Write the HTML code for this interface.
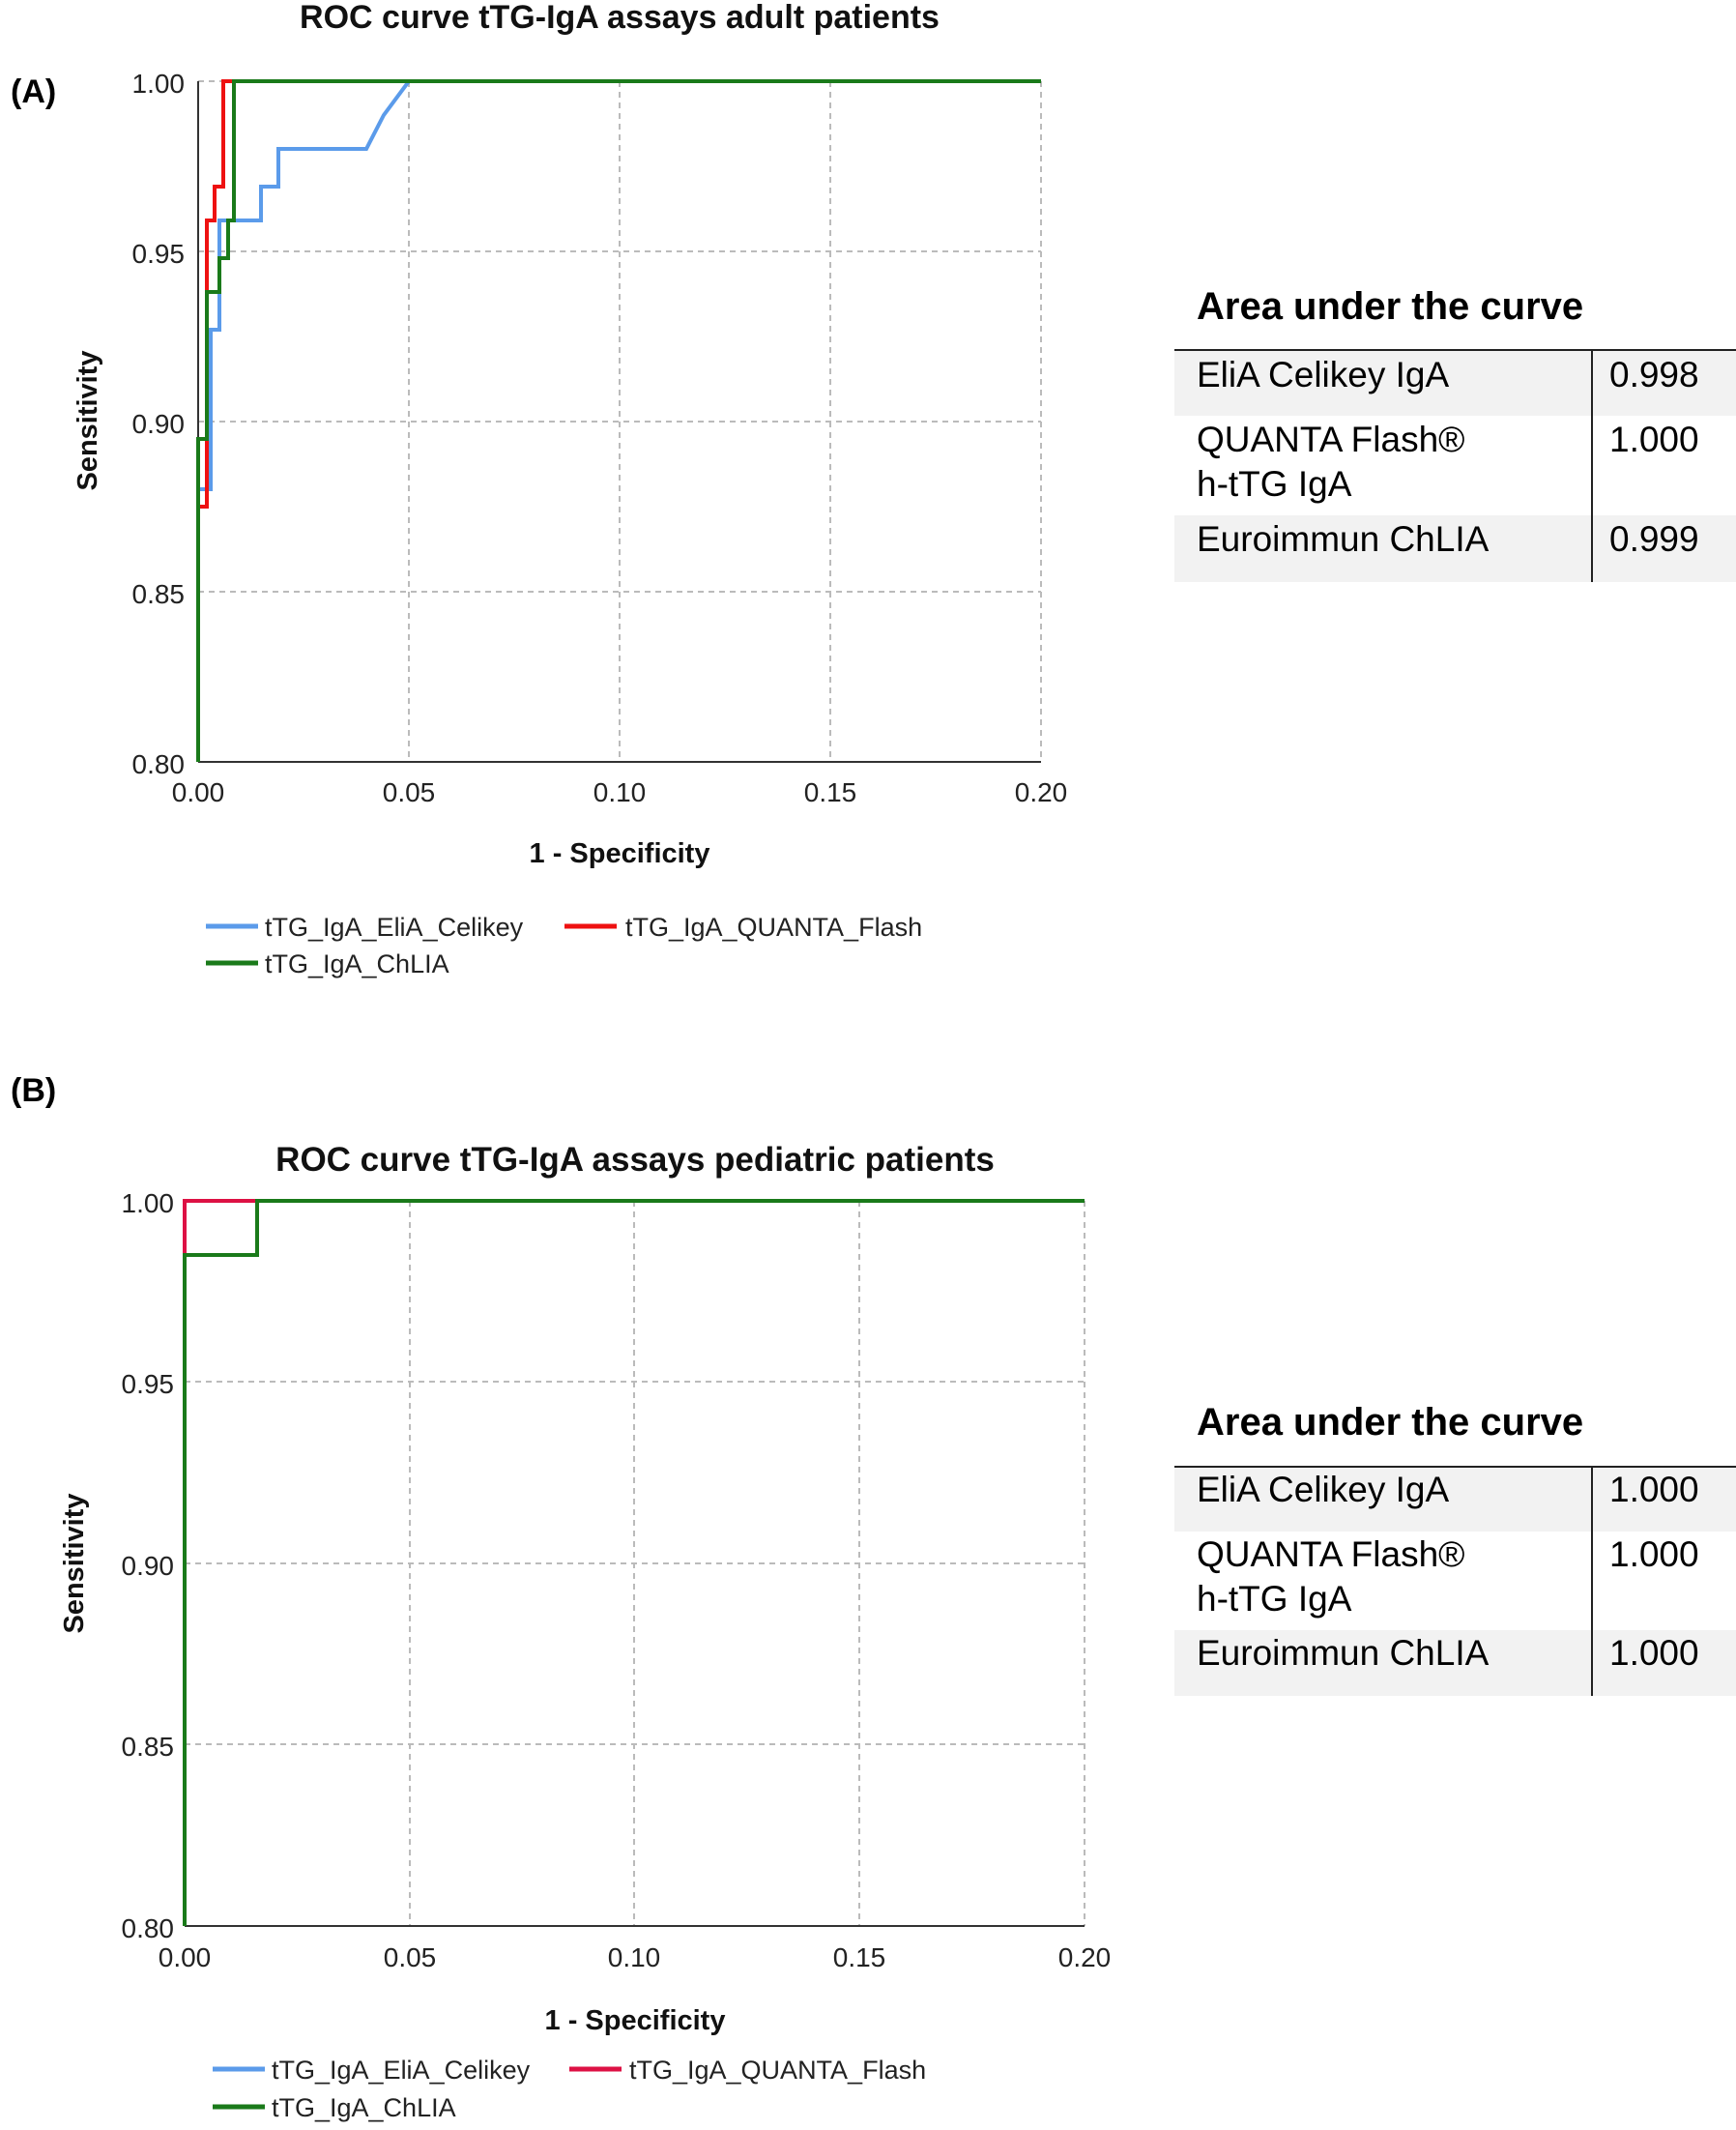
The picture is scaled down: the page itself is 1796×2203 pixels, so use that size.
<!DOCTYPE html>
<html><head><meta charset="utf-8"><style>
html,body{margin:0;padding:0;background:#fff;}
svg{display:block;font-family:"Liberation Sans",Arial,sans-serif;}
</style></head><body>
<svg width="1796" height="2203" viewBox="0 0 1796 2203" xmlns="http://www.w3.org/2000/svg">
<!-- ===== Panel A ===== -->
<text x="11" y="106" font-size="34" font-weight="bold">(A)</text>
<text x="641" y="29" font-size="34" font-weight="bold" text-anchor="middle" fill="#111">ROC curve tTG-IgA assays adult patients</text>
<g stroke="#bbb" stroke-width="2" stroke-dasharray="6,5" fill="none">
<line x1="205" y1="84" x2="1077" y2="84"/>
<line x1="205" y1="260" x2="1077" y2="260"/>
<line x1="205" y1="436" x2="1077" y2="436"/>
<line x1="205" y1="612" x2="1077" y2="612"/>
<line x1="423" y1="84" x2="423" y2="788"/>
<line x1="641" y1="84" x2="641" y2="788"/>
<line x1="859" y1="84" x2="859" y2="788"/>
<line x1="1077" y1="84" x2="1077" y2="788"/>
</g>
<line x1="205" y1="84" x2="205" y2="788" stroke="#333" stroke-width="2"/>
<line x1="205" y1="788" x2="1077" y2="788" stroke="#333" stroke-width="2"/>
<g font-size="28" fill="#222" text-anchor="end">
<text x="191" y="96">1.00</text><text x="191" y="272">0.95</text><text x="191" y="448">0.90</text><text x="191" y="624">0.85</text><text x="191" y="800">0.80</text>
</g>
<g font-size="28" fill="#222" text-anchor="middle">
<text x="205" y="829">0.00</text><text x="423" y="829">0.05</text><text x="641" y="829">0.10</text><text x="859" y="829">0.15</text><text x="1077" y="829">0.20</text>
</g>
<text x="641" y="892" font-size="29" font-weight="bold" text-anchor="middle" fill="#111">1 - Specificity</text>
<text transform="translate(100,435) rotate(-90)" font-size="29" font-weight="bold" text-anchor="middle" fill="#111">Sensitivity</text>
<g fill="none" stroke-width="4" stroke-linejoin="miter">
<polyline stroke="#5b9bea" points="205,788 205,506 218,506 218,341 227,341 227,228 270,228 270,193 288,193 288,154 379,154 397,119 423,84 1077,84"/>
<polyline stroke="#ee1111" points="205,788 205,524 214,524 214,228 222,228 222,193 231,193 231,84 1077,84"/>
<polyline stroke="#1a7a1a" points="205,788 205,454 214,454 214,302 227,302 227,267 236,267 236,228 242,228 242,84 1077,84"/>
</g>
<g font-size="27" fill="#222">
<line x1="213" y1="958" x2="267" y2="958" stroke="#5b9bea" stroke-width="5"/><text x="274" y="968">tTG_IgA_EliA_Celikey</text>
<line x1="584" y1="958" x2="638" y2="958" stroke="#ee1111" stroke-width="5"/><text x="647" y="968">tTG_IgA_QUANTA_Flash</text>
<line x1="213" y1="996" x2="267" y2="996" stroke="#1a7a1a" stroke-width="5"/><text x="274" y="1006">tTG_IgA_ChLIA</text>
</g>
<!-- Table A -->
<rect x="1215" y="362" width="581" height="68" fill="#f2f2f2"/>
<rect x="1215" y="533" width="581" height="69" fill="#f2f2f2"/>
<line x1="1215" y1="362" x2="1796" y2="362" stroke="#222" stroke-width="2"/>
<line x1="1647" y1="362" x2="1647" y2="602" stroke="#222" stroke-width="2"/>
<text x="1238" y="330" font-size="40" font-weight="bold">Area under the curve</text>
<g font-size="37">
<text x="1238" y="400">EliA Celikey IgA</text><text x="1665" y="400">0.998</text>
<text x="1238" y="467">QUANTA Flash®</text><text x="1665" y="467">1.000</text>
<text x="1238" y="513">h-tTG IgA</text>
<text x="1238" y="570">Euroimmun ChLIA</text><text x="1665" y="570">0.999</text>
</g>
<!-- ===== Panel B ===== -->
<text x="11" y="1139" font-size="34" font-weight="bold">(B)</text>
<text x="657" y="1211" font-size="35" font-weight="bold" text-anchor="middle" fill="#111">ROC curve tTG-IgA assays pediatric patients</text>
<g stroke="#bbb" stroke-width="2" stroke-dasharray="6,5" fill="none">
<line x1="191" y1="1429" x2="1122" y2="1429"/>
<line x1="191" y1="1617" x2="1122" y2="1617"/>
<line x1="191" y1="1804" x2="1122" y2="1804"/>
<line x1="424" y1="1242" x2="424" y2="1992"/>
<line x1="656" y1="1242" x2="656" y2="1992"/>
<line x1="889" y1="1242" x2="889" y2="1992"/>
<line x1="1122" y1="1242" x2="1122" y2="1992"/>
</g>
<line x1="191" y1="1992" x2="1122" y2="1992" stroke="#333" stroke-width="2"/>
<g font-size="28" fill="#222" text-anchor="end">
<text x="180" y="1254">1.00</text><text x="180" y="1441">0.95</text><text x="180" y="1629">0.90</text><text x="180" y="1816">0.85</text><text x="180" y="2004">0.80</text>
</g>
<g font-size="28" fill="#222" text-anchor="middle">
<text x="191" y="2034">0.00</text><text x="424" y="2034">0.05</text><text x="656" y="2034">0.10</text><text x="889" y="2034">0.15</text><text x="1122" y="2034">0.20</text>
</g>
<text x="657" y="2099" font-size="29" font-weight="bold" text-anchor="middle" fill="#111">1 - Specificity</text>
<text transform="translate(86,1617) rotate(-90)" font-size="29" font-weight="bold" text-anchor="middle" fill="#111">Sensitivity</text>
<g fill="none" stroke-width="4">
<polyline stroke="#dd1144" points="191,1298 191,1242 266,1242"/>
<polyline stroke="#1a7a1a" points="191,1992 191,1298 266,1298 266,1242 1122,1242"/>
</g>
<g font-size="27" fill="#222">
<line x1="220" y1="2140" x2="274" y2="2140" stroke="#5b9bea" stroke-width="5"/><text x="281" y="2150">tTG_IgA_EliA_Celikey</text>
<line x1="589" y1="2140" x2="643" y2="2140" stroke="#dd1144" stroke-width="5"/><text x="651" y="2150">tTG_IgA_QUANTA_Flash</text>
<line x1="220" y1="2179" x2="274" y2="2179" stroke="#1a7a1a" stroke-width="5"/><text x="281" y="2189">tTG_IgA_ChLIA</text>
</g>
<!-- Table B -->
<rect x="1215" y="1518" width="581" height="66" fill="#f2f2f2"/>
<rect x="1215" y="1686" width="581" height="68" fill="#f2f2f2"/>
<line x1="1215" y1="1517" x2="1796" y2="1517" stroke="#222" stroke-width="2"/>
<line x1="1647" y1="1517" x2="1647" y2="1754" stroke="#222" stroke-width="2"/>
<text x="1238" y="1484" font-size="40" font-weight="bold">Area under the curve</text>
<g font-size="37">
<text x="1238" y="1553">EliA Celikey IgA</text><text x="1665" y="1553">1.000</text>
<text x="1238" y="1620">QUANTA Flash®</text><text x="1665" y="1620">1.000</text>
<text x="1238" y="1666">h-tTG IgA</text>
<text x="1238" y="1722">Euroimmun ChLIA</text><text x="1665" y="1722">1.000</text>
</g>
</svg>
</body></html>
